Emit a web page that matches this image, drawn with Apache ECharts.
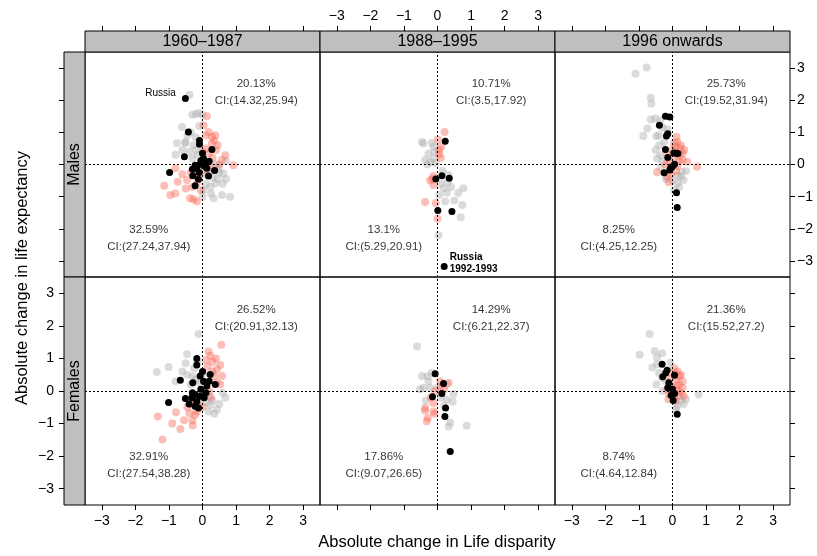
<!DOCTYPE html>
<html>
<head>
<meta charset="utf-8">
<script src="https://cdn.jsdelivr.net/npm/echarts@6/dist/echarts.min.js"></script>
<style>
html, body { margin: 0; padding: 0; background: #fff; }
#chart { width: 817px; height: 556px; }
</style>
</head>
<body>
<div id="chart"></div>
<script>
// Panel strips and tick values
const periods = ['1960–1987', '1988–1995', '1996 onwards'];
const sexes = ['Males', 'Females'];
const tickValues = [-3, -2, -1, 0, 1, 2, 3];

// Males, 1960–1987: [change in life disparity, change in life expectancy]
const malesGray1 = [[-0.39,2.17],[-0.3,1.55],[-0.2,1.57],[-0.1,1.6],[0.0,1.55],[-0.61,1.17],[-0.76,0.67],[-0.51,0.67],[-0.27,0.6],[-0.51,0.7],[0.33,-1.05],[0.58,-0.95],[0.82,-1.0],[0.03,-0.79],[0.23,-0.69],[0.38,-0.59],[0.62,-0.28],[0.48,-0.12],[0.13,-0.33],[0.3,-0.4],[0.45,-0.45],[-0.4,0.4],[-0.2,0.45],[-0.6,0.45],[-0.3,0.2],[0.7,0.1],[0.6,-0.6],[-0.1,1.2],[-0.35,1.0],[-0.2,0.85],[0.1,-0.6],[0.25,-0.9],[-0.45,0.9],[0.5,-0.25],[0.15,-0.15],[-0.8,0.3],[0.0,-1.0],[0.7,-0.45],[-0.15,0.3],[0.4,0.0]];
const malesRed1 = [[0.13,1.5],[0.03,1.22],[0.18,1.01],[0.38,0.91],[0.28,0.86],[0.28,0.65],[0.58,0.14],[0.68,0.29],[0.92,-0.02],[-0.81,-0.12],[-1.14,-0.66],[-0.81,-0.9],[-0.96,-0.95],[-0.74,-0.54],[-0.46,-0.48],[-0.37,-1.05],[-0.17,-1.15],[-0.27,-1.08],[0.1,0.5],[0.2,0.35],[0.3,0.2],[0.0,0.4],[0.15,0.05],[0.05,-0.2],[-0.2,-0.3],[-0.35,-0.25],[-0.15,-0.55],[-0.3,-0.7],[0.4,0.45],[0.45,0.6],[-0.05,-0.8],[-0.5,-0.75],[0.25,-0.1],[0.5,0.0],[-0.6,-0.3],[0.35,0.75],[0.1,0.9],[-0.1,-0.4]];
const malesBlack1 = [[-0.42,1.01],[-0.09,0.75],[-0.09,0.63],[0.28,0.47],[-0.54,0.24],[0.03,0.19],[-0.22,-0.02],[-0.07,0.01],[0.1,0.03],[-0.17,-0.12],[0.13,-0.12],[-0.98,-0.25],[-0.29,-0.35],[-0.12,-0.46],[-0.22,-0.66],[0.36,-0.19],[0.18,-0.36],[-0.05,0.12],[0.05,-0.05],[-0.3,-0.15],[0.2,0.1],[-0.1,-0.25],[0.0,0.35]];

// Males, 1988–1995
const malesGray2 = [[-0.46,0.7],[-0.17,0.67],[-0.42,0.65],[-0.37,0.14],[-0.22,0.08],[-0.12,0.19],[-0.27,0.34],[-0.12,0.55],[0.18,-0.74],[0.28,-0.88],[0.23,-1.15],[0.62,-0.88],[0.77,-0.74],[0.5,-1.12],[0.74,-1.26],[0.69,-1.64],[0.03,-2.2],[0.33,-0.33],[0.3,-0.55],[0.1,-0.6],[-0.05,0.05],[-0.3,0.0],[0.15,-0.2],[0.05,-0.95],[0.4,-0.7],[-0.08,0.4]];
const malesRed2 = [[0.21,1.01],[0.01,0.78],[0.11,0.55],[0.05,0.32],[-0.12,-0.36],[-0.22,-0.5],[-0.12,-0.64],[-0.37,-1.17],[-0.05,-1.2],[0.0,-1.69],[0.05,0.45],[-0.15,-0.45],[0.1,0.2]];
const malesBlack2 = [[0.23,0.72],[-0.05,-0.45],[0.13,-0.35],[0.35,-0.43],[0.01,-1.43],[0.43,-1.46]];

// Males, 1996 onwards
const malesGray3 = [[-1.1,2.82],[-0.77,3.02],[-0.65,2.08],[-0.63,1.89],[-0.65,1.4],[-0.51,1.43],[-0.36,1.37],[-0.75,1.12],[-0.87,0.89],[-0.48,0.88],[-0.41,0.91],[-0.36,0.29],[-0.46,0.19],[0.28,-0.23],[0.33,-0.48],[0.14,-0.58],[0.24,-0.38],[-0.3,1.15],[-0.25,0.7],[-0.4,0.6],[-0.3,0.1],[0.15,-0.35],[0.0,-0.5],[-0.2,-0.45],[0.4,-0.2],[-0.5,0.45],[-0.15,1.1],[0.2,-0.7],[-0.35,-0.1],[0.05,-0.8]];
const malesRed3 = [[0.12,0.86],[0.14,0.7],[0.09,0.55],[0.24,0.5],[0.44,0.08],[0.73,-0.07],[-0.46,-0.24],[-0.11,-0.55],[-0.16,-0.38],[0.0,0.45],[0.1,0.4],[0.2,0.3],[0.3,0.35],[0.05,0.2],[0.2,0.1],[0.3,0.15],[-0.1,0.05],[0.15,-0.05],[0.25,0.6],[-0.2,0.0],[-0.05,-0.3],[0.35,0.45],[0.05,0.65],[0.1,-0.2],[-0.15,0.3]];
const malesBlack3 = [[-0.21,1.5],[-0.08,1.48],[-0.39,1.22],[-0.14,0.96],[-0.18,0.89],[-0.21,0.47],[-0.14,0.22],[0.04,0.36],[0.16,0.34],[0.06,0.01],[-0.01,-0.07],[-0.08,-0.17],[-0.25,-0.26],[0.12,-0.88],[0.14,-1.34],[0.1,0.35],[-0.05,-0.1]];

// Females, 1960–1987
const femalesGray1 = [[-0.12,1.75],[-0.46,1.13],[-1.01,0.74],[-1.36,0.58],[0.68,-0.21],[0.23,-0.42],[0.18,-0.63],[0.43,-0.57],[-0.46,0.5],[-0.3,0.45],[-0.2,0.35],[-0.1,0.25],[-0.35,0.2],[-0.6,0.6],[-0.25,0.7],[0.3,-0.3],[0.5,-0.4],[0.1,-0.35],[-0.8,0.3],[0.0,-0.1],[-0.15,0.9],[-0.5,0.85],[0.35,-0.7],[0.6,-0.05],[0.05,0.55],[-0.05,-0.25],[0.2,-0.15]];
const femalesRed1 = [[0.56,1.42],[0.18,1.21],[0.23,1.08],[0.53,0.8],[0.43,0.67],[0.58,0.46],[0.53,0.2],[0.43,0.25],[-1.33,-0.78],[-0.79,-0.65],[-0.66,-1.17],[-0.29,-1.06],[-1.19,-1.49],[-0.39,-0.68],[-0.22,-0.73],[-0.17,-0.63],[0.3,0.9],[0.1,0.95],[0.35,0.45],[0.2,0.0],[-0.35,-0.4],[-0.45,-0.5],[-0.25,-0.3],[-0.1,-0.45],[0.3,0.6],[0.15,0.75],[0.4,1.0],[-0.55,-0.9],[-0.9,-1.0],[0.25,-0.2],[-0.3,-0.9],[0.0,-0.5]];
const femalesBlack1 = [[-0.17,1.0],[-0.17,0.8],[-0.66,0.33],[-0.29,0.25],[-0.07,0.46],[0.03,0.3],[0.13,0.15],[0.23,0.51],[0.38,0.2],[-1.01,-0.35],[-0.51,-0.23],[-0.32,-0.21],[-0.22,-0.11],[-0.17,-0.32],[-0.07,-0.16],[-0.22,-0.47],[-0.12,-0.52],[0.05,-0.21],[-0.05,0.05],[0.1,-0.05],[-0.3,-0.05],[0.2,0.3],[-0.4,-0.4],[0.0,0.6]];

// Females, 1988–1995
const femalesGray2 = [[-0.61,1.37],[-0.46,0.46],[-0.27,0.3],[-0.22,0.1],[-0.42,0.1],[-0.52,0.05],[-0.17,0.56],[0.28,0.2],[0.48,-0.09],[0.45,-0.33],[0.28,-0.26],[0.38,-0.97],[0.33,-1.09],[0.87,-1.07],[-0.3,0.45],[0.0,0.1],[0.1,-0.2],[-0.35,-0.3],[0.2,-0.45]];
const femalesRed2 = [[0.33,0.25],[0.08,0.3],[-0.37,-0.52],[-0.12,-0.63],[-0.29,-0.83],[-0.37,-0.6],[-0.09,-0.7],[-0.32,-0.93],[-0.07,0.0],[-0.12,-0.37],[0.1,0.15],[-0.2,-0.2],[0.2,0.05]];
const femalesBlack2 = [[-0.07,0.53],[0.18,0.23],[0.13,-0.08],[-0.15,-0.18],[0.24,-0.52],[0.22,-0.78],[0.38,-1.86]];

// Females, 1996 onwards
const femalesGray3 = [[-0.68,1.75],[-0.98,1.11],[-0.53,1.23],[-0.31,1.16],[-0.46,1.03],[-0.6,0.72],[-0.46,0.82],[-0.48,0.2],[-0.31,0.41],[0.78,-0.11],[0.33,-0.4],[0.14,-0.47],[-0.06,0.87],[-0.4,0.55],[-0.2,0.3],[0.25,-0.3],[0.4,-0.25],[-0.3,0.0],[0.1,-0.55],[0.2,-0.15]];
const femalesRed3 = [[0.05,0.7],[0.15,0.6],[0.25,0.5],[0.3,0.3],[0.2,0.2],[0.1,0.35],[0.0,0.1],[0.15,0.0],[0.25,-0.05],[-0.1,-0.1],[0.05,-0.2],[-0.12,-0.25],[0.1,-0.3],[0.3,0.1],[0.2,0.45],[-0.05,0.4],[0.33,-0.15],[0.05,0.55],[-0.15,0.05],[0.1,0.15]];
const femalesBlack3 = [[-0.31,0.82],[-0.16,0.64],[0.06,0.48],[-0.29,0.44],[-0.11,0.25],[-0.14,0.1],[0.06,-0.08],[-0.04,-0.13],[0.02,-0.29],[0.14,-0.71],[-0.2,0.55],[0.0,0.05]];

// Labelled Russian observations (black points)
const russiaMales1 = [-0.51, 2.05];
const russiaMales2 = [0.2, -3.17];

// Shares of upper-right and lower-left quadrants, with confidence intervals
const upperPct = [['20.13%', '10.71%', '25.73%'], ['26.52%', '14.29%', '21.36%']];
const upperCI = [['CI:(14.32,25.94)', 'CI:(3.5,17.92)', 'CI:(19.52,31.94)'], ['CI:(20.91,32.13)', 'CI:(6.21,22.37)', 'CI:(15.52,27.2)']];
const lowerPct = [['32.59%', '13.1%', '8.25%'], ['32.91%', '17.86%', '8.74%']];
const lowerCI = [['CI:(27.24,37.94)', 'CI:(5.29,20.91)', 'CI:(4.25,12.25)'], ['CI:(27.54,38.28)', 'CI:(9.07,26.65)', 'CI:(4.64,12.84)']];

const grayPts = [[malesGray1, malesGray2, malesGray3], [femalesGray1, femalesGray2, femalesGray3]];
const redPts = [[malesRed1, malesRed2, malesRed3], [femalesRed1, femalesRed2, femalesRed3]];
const blackPts = [[malesBlack1, malesBlack2, malesBlack3], [femalesBlack1, femalesBlack2, femalesBlack3]];

// ---- layout ----
const colLeft = [85, 320, 555];
const colWidth = 235;
const rowTop = [52, 277];
const rowHeight = [225, 228];
const stripSize = 21;
const FONT = '"Liberation Sans", Arial, Helvetica, sans-serif';

const fmtTick = v => (v < 0 ? '\u2212' + (-v) : String(v));

const option = {
  animation: false,
  backgroundColor: '#fff',
  textStyle: { fontFamily: FONT, color: '#000' },
  grid: [], xAxis: [], yAxis: [], series: [], graphic: []
};

for (let r = 0; r < 2; r++) {
  for (let c = 0; c < 3; c++) {
    const idx = r * 3 + c;
    option.grid.push({
      left: colLeft[c], top: rowTop[r], width: colWidth, height: rowHeight[r],
      show: true, borderColor: '#000', borderWidth: 1, backgroundColor: 'transparent',
      containLabel: false, outerBoundsMode: 'none'
    });
    const xLabels = (r === 0 && c === 1) || (r === 1 && c !== 1);
    option.xAxis.push({
      gridIndex: idx, type: 'value', min: -3.5, max: 3.5,
      position: r === 0 ? 'top' : 'bottom', offset: r === 0 ? stripSize : 0,
      axisLine: { show: false, onZero: false }, splitLine: { show: false },
      axisTick: { show: true, customValues: tickValues, length: 5, lineStyle: { color: '#000', width: 1 } },
      axisLabel: { show: xLabels, customValues: tickValues, formatter: fmtTick, fontSize: 14, color: '#000', margin: r === 0 ? 8 : 9, fontFamily: FONT }
    });
    const yTicks = c !== 1;
    const yLabels = (c === 0 && r === 1) || (c === 2 && r === 0);
    option.yAxis.push({
      gridIndex: idx, type: 'value', min: -3.5, max: 3.5,
      position: c === 2 ? 'right' : 'left', offset: c === 0 ? stripSize : 0,
      axisLine: { show: false, onZero: false }, splitLine: { show: false },
      axisTick: { show: yTicks, customValues: tickValues, length: 5, lineStyle: { color: '#000', width: 1 } },
      axisLabel: { show: yLabels, customValues: tickValues, formatter: fmtTick, fontSize: 14, color: '#000', margin: c === 0 ? 10 : 7, fontFamily: FONT }
    });

    const common = { type: 'scatter', xAxisIndex: idx, yAxisIndex: idx, silent: true };
    option.series.push(Object.assign({}, common, {
      data: grayPts[r][c], symbolSize: 8,
      itemStyle: { color: 'rgba(175,175,175,0.45)', opacity: 1 },
      markLine: {
        silent: true, symbol: 'none', label: { show: false },
        lineStyle: { color: '#000', type: [2, 2], width: 1 },
        data: [{ xAxis: 0 }, { yAxis: 0 }]
      }
    }));
    option.series.push(Object.assign({}, common, {
      data: redPts[r][c], symbolSize: 8,
      itemStyle: { color: 'rgba(248,100,82,0.42)', opacity: 1 }
    }));
    option.series.push(Object.assign({}, common, {
      data: blackPts[r][c], symbolSize: 7,
      itemStyle: { color: '#000', opacity: 1 }
    }));
    // quadrant shares
    option.series.push(Object.assign({}, common, {
      symbolSize: 1, itemStyle: { color: 'transparent' },
      data: [
        { value: [1.6, 2.24], name: upperPct[r][c] + '\n' + upperCI[r][c] },
        { value: [-1.6, -2.29], name: lowerPct[r][c] + '\n' + lowerCI[r][c] }
      ],
      label: {
        show: true, position: 'inside', formatter: p => p.name,
        fontSize: 11.5, lineHeight: 17, color: '#000', fontFamily: FONT, align: 'center'
      },
      z: 5
    }));
  }
}

// Russia labels
option.series.push({
  type: 'scatter', xAxisIndex: 0, yAxisIndex: 0, silent: true, symbolSize: 7,
  itemStyle: { color: '#000', opacity: 1 },
  data: [{ value: russiaMales1, name: 'Russia' }],
  label: { show: true, position: 'left', distance: 6, offset: [0, -5], formatter: p => p.name, fontSize: 10, color: '#000', fontFamily: FONT }
});
option.series.push({
  type: 'scatter', xAxisIndex: 1, yAxisIndex: 1, silent: true, symbolSize: 7,
  itemStyle: { color: '#000', opacity: 1 },
  data: [{ value: russiaMales2, name: 'Russia\n1992-1993' }],
  label: { show: true, position: 'right', distance: 2, offset: [0, -3], formatter: p => p.name, fontSize: 10, fontWeight: 'bold', lineHeight: 11.5, color: '#000', fontFamily: FONT, align: 'left' }
});

// strips
periods.forEach((p, c) => {
  option.graphic.push({
    type: 'rect', silent: true,
    shape: { x: colLeft[c], y: rowTop[0] - stripSize, width: colWidth, height: stripSize },
    style: { fill: '#bfbfbf', stroke: '#000', lineWidth: 1 }
  });
  option.graphic.push({
    type: 'text', silent: true, x: colLeft[c] + colWidth / 2, y: rowTop[0] - stripSize / 2,
    style: { text: p, font: '16px ' + FONT, fill: '#000', textAlign: 'center', textVerticalAlign: 'middle' }
  });
});
sexes.forEach((s, r) => {
  const x0 = colLeft[0] - stripSize;
  option.graphic.push({
    type: 'rect', silent: true,
    shape: { x: x0, y: rowTop[r], width: stripSize, height: rowHeight[r] },
    style: { fill: '#bfbfbf', stroke: '#000', lineWidth: 1 }
  });
  option.graphic.push({
    type: 'text', silent: true, x: x0 + stripSize / 2, y: rowTop[r] + rowHeight[r] / 2, rotation: Math.PI / 2,
    style: { text: s, font: '16px ' + FONT, fill: '#000', textAlign: 'center', textVerticalAlign: 'middle' }
  });
});

// axis titles
option.graphic.push({
  type: 'text', silent: true, x: 437, y: 542,
  style: { text: 'Absolute change in Life disparity', font: '16.5px ' + FONT, fill: '#000', textAlign: 'center', textVerticalAlign: 'middle' }
});
option.graphic.push({
  type: 'text', silent: true, x: 22, y: 278, rotation: Math.PI / 2,
  style: { text: 'Absolute change in life expectancy', font: '16.5px ' + FONT, fill: '#000', textAlign: 'center', textVerticalAlign: 'middle' }
});

const chart = echarts.init(document.getElementById('chart'), null, { renderer: 'canvas' });
chart.setOption(option);
</script>
</body>
</html>
